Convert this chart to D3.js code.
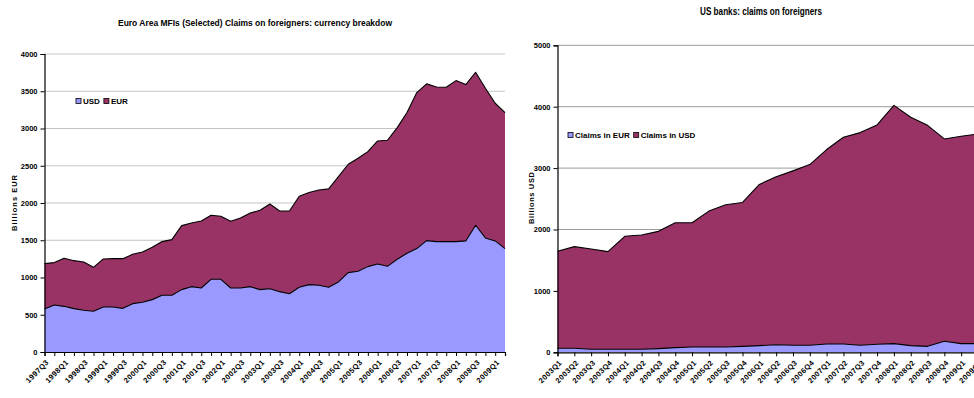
<!DOCTYPE html>
<html>
<head>
<meta charset="utf-8">
<script src="https://cdn.jsdelivr.net/npm/d3@7/dist/d3.min.js"></script>
<style>
  body { margin: 0; background: #fff; }
  svg { display: block; }
  text { font-family: "Liberation Sans Narrow", "Arial Narrow", "Liberation Sans", Arial, sans-serif; fill: #000; }
</style>
</head>
<body>
<svg id="chart" width="974" height="398"></svg>
<script>
// ---- Euro area MFIs: claims on foreigners by currency (billions EUR) ----
const euroQuarters = [
  "1997Q3","1997Q4","1998Q1","1998Q2","1998Q3","1998Q4","1999Q1","1999Q2",
  "1999Q3","1999Q4","2000Q1","2000Q2","2000Q3","2000Q4","2001Q1","2001Q2",
  "2001Q3","2001Q4","2002Q1","2002Q2","2002Q3","2002Q4","2003Q1","2003Q2",
  "2003Q3","2003Q4","2004Q1","2004Q2","2004Q3","2004Q4","2005Q1","2005Q2",
  "2005Q3","2005Q4","2006Q1","2006Q2","2006Q3","2006Q4","2007Q1","2007Q2",
  "2007Q3","2007Q4","2008Q1","2008Q2","2008Q3","2008Q4","2009Q1","2009Q2"
];
const euroUSD = [
  577, 631, 613, 582, 560, 546, 604, 604, 586, 649, 667, 703,
  761, 761, 837, 877, 859, 976, 976, 859, 859, 877, 837, 850,
  810, 783, 868, 904, 895, 868, 940, 1065, 1083, 1146, 1182, 1150,
  1244, 1325, 1388, 1495, 1482, 1482, 1482, 1491, 1701, 1531, 1491, 1388
];
const euroEUR = [
  609, 569, 645, 644, 648, 591, 645, 649, 667, 662, 676, 702,
  721, 747, 859, 855, 900, 859, 846, 896, 940, 989, 1065, 1137,
  1083, 1110, 1222, 1236, 1280, 1321, 1414, 1455, 1517, 1544, 1651, 1692,
  1768, 1889, 2094, 2104, 2076, 2072, 2161, 2099, 2054, 2010, 1848, 1826
];
const euroYTicks = [0, 500, 1000, 1500, 2000, 2500, 3000, 3500, 4000];

// ---- US banks: claims on foreigners by currency (billions USD) ----
const usQuarters = [
  "2003Q1","2003Q2","2003Q3","2003Q4","2004Q1","2004Q2","2004Q3","2004Q4",
  "2005Q1","2005Q2","2005Q3","2005Q4","2006Q1","2006Q2","2006Q3","2006Q4",
  "2007Q1","2007Q2","2007Q3","2007Q4","2008Q1","2008Q2","2008Q3","2008Q4",
  "2009Q1","2009Q2"
];
const usEUR = [
  65, 65, 49, 49, 49, 49, 60, 76, 87, 87, 87, 97, 108,
  124, 114, 114, 135, 135, 114, 130, 141, 108, 97, 179, 141, 141
];
const usUSD = [
  1581, 1656, 1634, 1591, 1840, 1862, 1910, 2035, 2024, 2213, 2316, 2344, 2626,
  2734, 2841, 2944, 3167, 3367, 3464, 3573, 3881, 3719, 3600, 3296, 3377, 3415
];
const usYTicks = [0, 1000, 2000, 3000, 4000, 5000];

const COL_LOW = "#9999ff";
const COL_HIGH = "#993366";

const svg = d3.select("#chart");

function drawPanel(cfg) {
  const g = svg.append("g");
  const x = d3.scalePoint().domain(cfg.categories).range([cfg.x0, cfg.x1]);
  const y = d3.scaleLinear().domain([0, cfg.yMax]).range([cfg.y0, cfg.y1]);

  // horizontal gridlines
  g.selectAll("line.grid").data(cfg.yTicks.filter(d => d > 0)).join("line")
    .attr("x1", cfg.x0).attr("x2", cfg.gridEnd)
    .attr("y1", d => y(d)).attr("y2", d => y(d))
    .attr("stroke", cfg.gridColor).attr("stroke-width", 1);

  // stacked areas
  const rows = cfg.categories.map((c, i) => {
    const r = { cat: c };
    cfg.keys.forEach((k, j) => r[k] = cfg.series[j][i]);
    return r;
  });
  const stacked = d3.stack().keys(cfg.keys)(rows);
  const area = d3.area()
    .x(d => x(d.data.cat)).y0(d => y(d[0])).y1(d => y(d[1]));
  const topLine = d3.line().x(d => x(d.data.cat)).y(d => y(d[1]));
  stacked.forEach((s, j) => {
    g.append("path").attr("d", area(s)).attr("fill", cfg.colors[j]);
  });
  stacked.forEach(s => {
    g.append("path").attr("d", topLine(s)).attr("fill", "none")
      .attr("stroke", "#000").attr("stroke-width", 1.1).attr("stroke-linejoin", "round");
  });

  // y axis
  const yAxis = d3.axisLeft(y).tickValues(cfg.yTicks).tickFormat(d3.format("d"))
    .tickSize(4).tickPadding(3);
  const ya = g.append("g").attr("transform", `translate(${cfg.x0},0)`).call(yAxis);
  ya.select(".domain").attr("stroke", "#000").attr("stroke-width", 1.2);
  ya.selectAll(".tick line").attr("stroke", "#000");
  ya.selectAll(".tick text").attr("font-size", 7.5).attr("font-weight", "bold")
    .style("font-family", "'Liberation Sans Narrow','Arial Narrow','Liberation Sans',sans-serif");

  // x axis
  const xAxis = d3.axisBottom(x).tickSize(4).tickFormat("");
  const xa = g.append("g").attr("transform", `translate(0,${cfg.y0})`).call(xAxis);
  xa.select(".domain").attr("stroke", "#000").attr("stroke-width", 1.2);
  xa.selectAll(".tick line").attr("stroke", "#000");

  // rotated category labels
  g.selectAll("text.xl")
    .data(cfg.categories.filter((d, i) => i % cfg.labelEvery === 0))
    .join("text")
    .attr("class", "xl")
    .attr("transform", d => `translate(${x(d) + 3},${cfg.y0 + 9}) rotate(-45)`)
    .attr("text-anchor", "end")
    .attr("dy", "0.35em")
    .attr("font-size", 7.5)
    .attr("font-weight", "bold")
    .attr("letter-spacing", 0.4)
    .style("font-family", "'Liberation Sans','Arial',sans-serif")
    .text(d => d);

  // title
  svg.append("text").attr("x", cfg.titleX).attr("y", cfg.titleY)
    .attr("text-anchor", "middle").attr("font-size", cfg.titleSize).attr("font-weight", "bold")
    .attr("textLength", cfg.titleWidth).attr("lengthAdjust", "spacingAndGlyphs")
    .text(cfg.title);

  // y axis title
  svg.append("text")
    .attr("transform", `translate(${cfg.yTitleX},${cfg.yTitleY}) rotate(-90)`)
    .attr("text-anchor", "middle").attr("font-size", 7.5).attr("font-weight", "bold")
    .attr("textLength", cfg.yTitleLen).attr("lengthAdjust", "spacing")
    .text(cfg.yTitle);

  // legend
  let lx = cfg.legendX;
  cfg.legendLabels.forEach((lab, j) => {
    svg.append("rect").attr("x", lx).attr("y", cfg.legendY - 5.5)
      .attr("width", 5).attr("height", 5)
      .attr("fill", cfg.colors[j]).attr("stroke", "#000").attr("stroke-width", 0.8);
    const t = svg.append("text").attr("x", lx + 7).attr("y", cfg.legendY)
      .attr("font-size", 8).attr("font-weight", "bold").text(lab);
    lx += 7 + t.node().getComputedTextLength() + 4;
  });
}

drawPanel({
  categories: euroQuarters,
  series: [euroUSD, euroEUR],
  keys: ["USD", "EUR"],
  colors: [COL_LOW, COL_HIGH],
  yTicks: euroYTicks, yMax: 4000,
  x0: 44.5, x1: 505, y0: 352, y1: 54, gridEnd: 505,
  gridColor: "#c4c4c4",
  labelEvery: 2,
  title: "Euro Area MFIs (Selected) Claims on foreigners: currency breakdow",
  titleX: 255, titleY: 26, titleSize: 9.5, titleWidth: 274,
  yTitle: "Billions EUR", yTitleX: 17, yTitleY: 203, yTitleLen: 56,
  legendLabels: ["USD", "EUR"], legendX: 76, legendY: 104
});

drawPanel({
  categories: usQuarters,
  series: [usEUR, usUSD],
  keys: ["EUR", "USD"],
  colors: [COL_LOW, COL_HIGH],
  yTicks: usYTicks, yMax: 5000,
  x0: 557.5, x1: 978, y0: 352.3, y1: 45.3, gridEnd: 990,
  gridColor: "#9a9a9a",
  labelEvery: 1,
  title: "US banks: claims on foreigners",
  titleX: 761, titleY: 15, titleSize: 10, titleWidth: 122,
  yTitle: "Billions USD", yTitleX: 534, yTitleY: 198, yTitleLen: 52,
  legendLabels: ["Claims in EUR", "Claims in USD"], legendX: 568, legendY: 138
});
</script>
</body>
</html>
